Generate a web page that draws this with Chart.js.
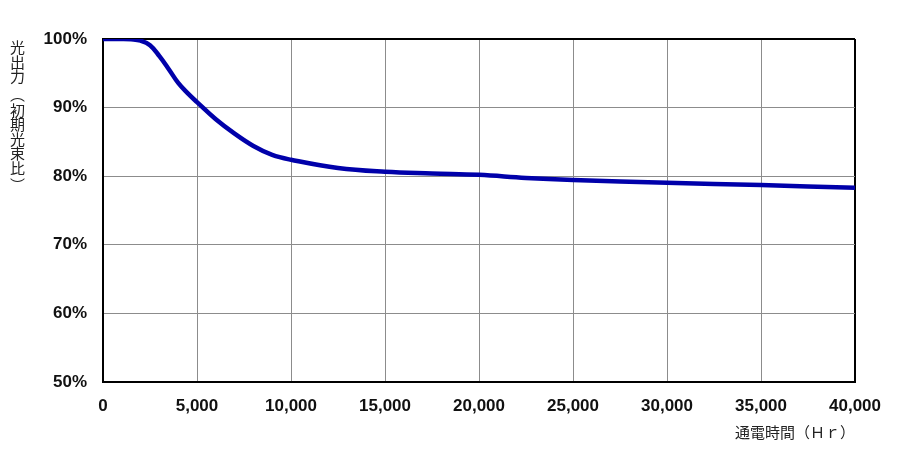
<!DOCTYPE html>
<html>
<head>
<meta charset="utf-8">
<script src="https://cdn.jsdelivr.net/npm/chart.js@4"></script>
<style>
  html, body { margin: 0; padding: 0; background: #fff; }
  #wrap { position: relative; width: 900px; height: 451px; }
  #ytitle {
    position: absolute; left: 7px; top: 40px; width: 21px;
    font-family: "Noto Sans CJK JP", sans-serif; font-size: 15px;
    color: #222; text-align: center;
  }
  #ytitle span { display: block; height: 14.5px; line-height: 14.5px; }
  #ytitle span.p { height: 19px; line-height: 19px; }
</style>
</head>
<body>
<div id="wrap">
  <canvas id="c" width="900" height="451"></canvas>
  <div id="ytitle"></div>
</div>
<script>
const hours  = [0, 1000, 1500, 2000, 2500, 3000, 3500, 4000, 4500, 5000, 6000, 7000, 8000, 9000, 10000, 12500, 15000, 17500, 20000, 22500, 25000, 30000, 35000, 40000];
const output = [100, 100, 99.95, 99.75, 99.1, 97.5, 95.6, 93.6, 92.1, 90.8, 88.3, 86.2, 84.4, 83.1, 82.4, 81.2, 80.65, 80.4, 80.2, 79.75, 79.45, 79.05, 78.7, 78.3];
const xTitle = '通電時間（Ｈｒ）';
const yTitleChars = ['光', '出', '力', '︵', '初', '期', '光', '束', '比', '︶'];
const yMin = 50, yMax = 100, yStep = 10;
const xMin = 0, xMax = 40000, xStep = 5000;

const yt = document.getElementById('ytitle');
yTitleChars.forEach(ch => {
  const s = document.createElement('span');
  s.textContent = ch;
  if (ch === '︵' || ch === '︶') s.className = 'p';
  yt.appendChild(s);
});

const points = hours.map((h, i) => ({ x: h, y: output[i] }));
const tickFont = { family: 'Liberation Sans, Arial, sans-serif', size: 17, weight: 'bold' };

new Chart(document.getElementById('c'), {
  type: 'line',
  data: {
    datasets: [{
      data: points,
      borderColor: '#0000AA',
      borderWidth: 4.5,
      pointRadius: 0,
      fill: false,
      tension: 0.4
    }]
  },
  options: {
    responsive: false,
    animation: false,
    layout: { padding: { top: 39, right: 45, left: 0, bottom: 10 } },
    plugins: { legend: { display: false }, tooltip: { enabled: false } },
    scales: {
      x: {
        type: 'linear', min: xMin, max: xMax,
        afterFit: s => { s.height = 59; },
        ticks: {
          stepSize: xStep, padding: 14, color: '#111', font: tickFont,
          callback: v => v.toLocaleString('en-US')
        },
        grid: {
          drawTicks: false,
          color: c => (c.tick && c.tick.value === xMax) ? '#000' : '#8c8c8c',
          lineWidth: c => (c.tick && c.tick.value === xMax) ? 2 : 1
        },
        border: { color: '#000', width: 2 },
        title: {
          display: true, text: xTitle, align: 'end', color: '#222',
          font: { family: '"Noto Sans CJK JP", sans-serif', size: 15 },
          padding: { top: 6, bottom: 0 }
        }
      },
      y: {
        min: yMin, max: yMax,
        afterFit: s => { s.width = 103; },
        ticks: {
          stepSize: yStep, padding: 16, color: '#111', font: tickFont,
          callback: v => v + '%'
        },
        grid: {
          drawTicks: false,
          color: c => (c.tick && c.tick.value === yMax) ? '#000' : '#8c8c8c',
          lineWidth: c => (c.tick && c.tick.value === yMax) ? 2 : 1
        },
        border: { color: '#000', width: 2 }
      }
    }
  }
});
</script>
</body>
</html>
